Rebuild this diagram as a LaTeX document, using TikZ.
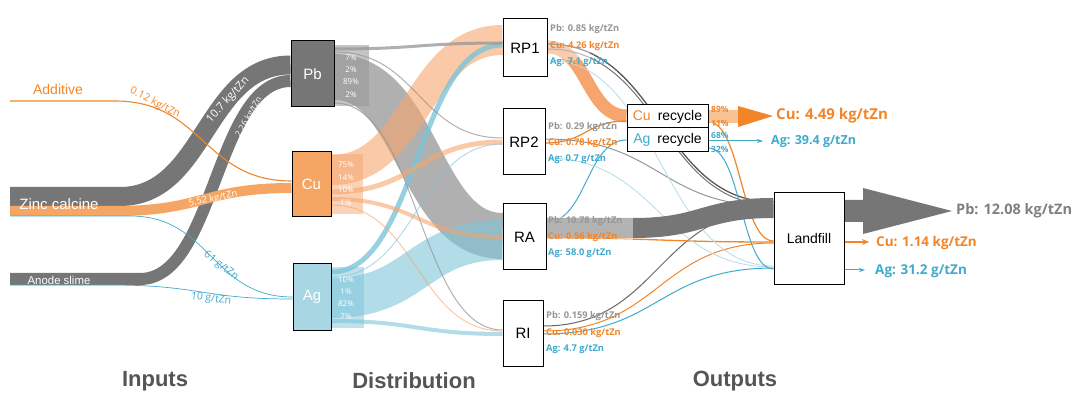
\documentclass[tikz,border=0pt]{standalone}
\usepackage{fontspec}
\setmainfont{Liberation Sans}
\newfontfamily\lblfont{Open Sans}
\usetikzlibrary{arrows.meta,calc}
\newcommand\fsz[1]{\fontsize{#1}{#1}\selectfont}
\definecolor{pb_dark}{RGB}{118,118,118}
\definecolor{pb_band}{RGB}{150,150,150}
\definecolor{pb_text}{RGB}{150,150,150}
\definecolor{pb_out}{RGB}{128,128,128}
\definecolor{cu_text}{RGB}{242,133,40}
\definecolor{cu_box}{RGB}{245,166,100}
\definecolor{cu_band}{RGB}{246,165,110}
\definecolor{ag_text}{RGB}{64,170,205}
\definecolor{ag_box}{RGB}{168,214,226}
\definecolor{ag_band}{RGB}{125,196,216}
\definecolor{head_gray}{RGB}{85,85,85}
\pgfdeclarelayer{bg}
\pgfsetlayers{bg,main}

\begin{document}
\begin{tikzpicture}[x=1pt,y=-1pt]
    \tikzstyle{box}=[draw=black, line width=1pt, fill=white, inner sep=0pt, font=\fsz{15}]
    \tikzstyle{flow}=[to path={let \p1=(\tikztostart), \p2=(\tikztotarget), \n1={(\x2-\x1)/2} in .. controls +(\n1,0) and +(-\n1,0) .. (\tikztotarget)}]
    \tikzstyle{pbflow}=[flow, draw=pb_band, draw opacity=.75]
    \tikzstyle{cuflow}=[flow, draw=cu_band, draw opacity=.6]
    \tikzstyle{agflow}=[flow, draw=ag_band, draw opacity=.6]
    \tikzstyle{val}=[font=\lblfont\bfseries\fsz{9.3}, inner sep=1pt, anchor=west]
    \tikzstyle{pct}=[font=\lblfont\fsz{8}, text=white, inner sep=0pt]
    \tikzstyle{onband}=[font=\lblfont\fsz{11}, text=white, inner sep=0pt]
    \tikzstyle{head}=[font=\bfseries\fsz{22}, text=head_gray]

    \useasboundingbox (0,0) rectangle (1081,395);

    % boxes
    \node[box, fill=pb_dark, text=white, minimum width=43pt, minimum height=66pt] (pb) at (312.5,74) {Pb};
    \node[box, fill=cu_box, text=white, minimum width=39pt, minimum height=65pt] (cu) at (311.5,184.5) {Cu};
    \node[box, fill=ag_box, text=white, minimum width=38pt, minimum height=66pt] (ag) at (312,297) {Ag};
    \node[box, minimum width=44pt, minimum height=58pt] (rp1) at (525,48) {RP1};
    \node[box, minimum width=42pt, minimum height=66pt] (rp2) at (524,142) {RP2};
    \node[box, minimum width=43pt, minimum height=66pt] (ra) at (524.5,237) {RA};
    \node[box, minimum width=40pt, minimum height=66pt] (ri) at (523,333) {RI};
    \node[box, font=\fsz{14}, minimum width=81pt, minimum height=23pt] (curec) at (667.5,116.5) {\textcolor{cu_text}{Cu}\hspace{7pt}recycle};
    \node[box, font=\fsz{14}, minimum width=81pt, minimum height=24pt] (agrec) at (667.5,140) {\textcolor{ag_text}{Ag}\hspace{7pt}recycle};
    \node[box, font=\fsz{14}, minimum width=70pt, minimum height=91pt] (landfill) at (809,238.5) {Landfill};

    % free ends
    \coordinate (zc_pb) at (10,196.5);
    \coordinate (zc_cu) at (10,211);
    \coordinate (zc_ag) at (10,216);
    \coordinate (an_pb) at (10,279);
    \coordinate (an_ag) at (10,285);
    \coordinate (add_cu) at (10,101);
    \coordinate (pb_end) at (952,211);
    \coordinate (cu_end) at (773,116);
    \coordinate (ag_end) at (763,141);
    \coordinate (lf_cu) at (869,242);
    \coordinate (lf_ag) at (865,270);

    \begin{pgfonlayer}{bg}
    % inputs
    \draw[pb_dark, line width=19pt] (zc_pb) -- ++(110,0) to[flow] (pb.west |- 0,65);
    \draw[pb_dark, line width=12pt] (an_pb) -- ++(130,0) to[flow] (pb.west |- 0,81);
    \draw[cu_box, line width=10pt] (zc_cu) -- ++(105,0) to[flow] (cu.west |- 0,188);
    \draw[cu_text, line width=1.1pt] (add_cu) -- ++(105,0) to[flow] (cu.west |- 0,181);
    \draw[ag_text, line width=.7pt] (zc_ag) -- ++(120,0) to[flow] (ag.west |- 0,297);
    \draw[ag_text, line width=.7pt] (an_ag) -- ++(100,0) to[flow] (ag.west |- 0,299);

    % distribution
    \path
     (pb.east |- 0,77)  edge[pbflow, line width=46pt] (ra.west |- 0,236)
     (cu.east |- 0,170) edge[cuflow, line width=30pt] (rp1.west |- 0,40)
     (ag.east |- 0,298) edge[agflow, line width=40pt] (ra.west |- 0,240)
     (ag.east |- 0,272) edge[agflow, draw opacity=.8, line width=5pt] (rp1.west |- 0,45)
     (pb.east |- 0,49)  edge[pbflow, line width=3pt] (rp1.west |- 0,43)
     (pb.east |- 0,52)  edge[pbflow, line width=1pt] (rp2.west |- 0,138)
     (pb.east |- 0,103) edge[pbflow, line width=1pt] (ri.west |- 0,330)
     (cu.east |- 0,192) edge[cuflow, line width=5pt] (rp2.west |- 0,142)
     (cu.east |- 0,199) edge[cuflow, line width=4pt] (ra.west |- 0,237)
     (cu.east |- 0,205) edge[cuflow, line width=1pt] (ri.west |- 0,331)
     (ag.east |- 0,277) edge[agflow, line width=1pt] (rp2.west |- 0,144)
     (ag.east |- 0,321) edge[agflow, line width=4pt] (ri.west |- 0,334);
    \fill[pb_band, opacity=.55] (334,45) rectangle (369,106);
    \fill[cu_band, opacity=.5] (331,154) rectangle (363,214);
    \fill[ag_band, opacity=.5] (331,267) rectangle (364,328);

    % outputs
    \path
     (rp1.east |- 0,47)  edge[flow, draw=cu_band, line width=13pt] (curec.west |- 0,116)
     (rp2.east |- 0,143) edge[flow, draw=cu_text, line width=1.2pt] (curec.west |- 0,121)
     (ra.east |- 0,222)  edge[flow, draw=ag_text, line width=1pt] (agrec.west |- 0,140)
     (rp1.east |- 0,44)  edge[flow, draw=black!65, line width=1.3pt] (landfill.west |- 0,202)
     (rp1.east |- 0,49)  edge[flow, draw=black!55, line width=1pt] (landfill.west |- 0,205)
     (rp2.east |- 0,139) edge[flow, draw=pb_band, line width=1pt] (landfill.west |- 0,206)
     (ri.east |- 0,326)  edge[flow, draw=black!60, line width=1pt] (landfill.west |- 0,210)
     (ra.east |- 0,238)  edge[flow, draw=cu_text, line width=1.3pt] (landfill.west |- 0,242)
     (ri.east |- 0,331)  edge[flow, draw=cu_text, line width=1pt] (landfill.west |- 0,243)
     (curec.east |- 0,122) edge[flow, draw=cu_text, line width=1.2pt] (landfill.west |- 0,241)
     (rp1.east |- 0,60)  edge[flow, draw=ag_text!40, line width=.8pt] (landfill.west |- 0,266)
     (rp2.east |- 0,158) edge[flow, draw=ag_text!40, line width=.8pt] (landfill.west |- 0,267)
     (ri.east |- 0,334)  edge[flow, draw=ag_text, line width=1pt] (landfill.west |- 0,268)
     (agrec.east |- 0,148) edge[flow, draw=ag_text, line width=1pt] (landfill.west |- 0,269);
    \draw[pb_dark, line width=20pt] (ra.east |- 0,228) -- (633,228) to[flow] (landfill.west |- 0,208);
    \fill[white, opacity=.45] (547,217) rectangle (633,240);
    \fill[white, opacity=.45] (548,33) rectangle (590,60);
    \fill[pb_dark] (landfill.east |- 0,200) -- (863,200) -- (863,188) -- (pb_end) -- (863,234) -- (863,222) -- (landfill.east |- 0,222) -- cycle;
    \fill[cu_text!50] (curec.east |- 0,110) rectangle (739,123);
    \fill[cu_text] (738,106) -- (cu_end) -- (738,127) -- cycle;
    \end{pgfonlayer}

    \draw[cu_text, line width=1.5pt, -{Stealth[length=7pt,width=6pt]}] (landfill.east |- 0,242) -- (lf_cu);
    \draw[ag_text, line width=1pt, -{Stealth[length=6pt,width=4pt]}] (landfill.east |- 0,270) -- (lf_ag);
    \draw[ag_text, line width=1pt, -{Stealth[length=6pt,width=4pt]}] (agrec.east |- 0,141) -- (ag_end);

    % input labels
    \node[font=\fsz{14}, text=cu_text] (add) at (58,89) {Additive};
    \node[font=\fsz{15}, text=white] (zc) at (59,204) {Zinc calcine};
    \node[font=\fsz{11.4}, text=white] (an) at (59,280) {Anode slime};
    \node[onband, rotate=48] (zc_pb_v) at (228,100) {10.7 kg/tZn};
    \node[onband, font=\lblfont\fsz{8.5}, rotate=60] (an_pb_v) at (249,117) {2.26 kg/tZn};
    \node[onband, text=cu_text, font=\lblfont\fsz{10.5}, rotate=-27] (add_cu_v) at (155,103) {0.12 kg/tZn};
    \node[onband, font=\lblfont\fsz{9.5}, rotate=12] (zc_cu_v) at (213,199) {5.52 kg/tZn};
    \node[onband, text=ag_text, font=\lblfont\fsz{10.5}, rotate=-38] (zc_ag_v) at (221,266) {61 g/tZn};
    \node[onband, text=ag_text, font=\lblfont\fsz{10.5}, rotate=-7] (an_ag_v) at (211,299) {10 g/tZn};

    % split shares
    \foreach \p/\y in {7\%/58, 2\%/70, 89\%/82, 2\%/95} \node[pct] (pb_p\y) at (351,\y) {\p};
    \foreach \p/\y in {75\%/165, 14\%/178, 10\%/190, 1\%/203} \node[pct] (cu_p\y) at (346,\y) {\p};
    \foreach \p/\y in {10\%/280, 1\%/292, 82\%/304, 7\%/317} \node[pct] (ag_p\y) at (346,\y) {\p};

    % process outputs
    \node[val, text=pb_text] (rp1_pb) at (549,29) {Pb: 0.85 kg/tZn};
    \node[val, text=cu_text] (rp1_cu) at (549,46) {Cu: 4.26 kg/tZn};
    \node[val, text=ag_text] (rp1_ag) at (549,62) {Ag: 7.1 g/tZn};
    \node[val, text=pb_text] (rp2_pb) at (547,127) {Pb: 0.29 kg/tZn};
    \node[val, text=cu_text] (rp2_cu) at (547,143) {Cu: 0.78 kg/tZn};
    \node[val, text=ag_text] (rp2_ag) at (547,159) {Ag: 0.7 g/tZn};
    \node[val, text=pb_text] (ra_pb) at (547,221) {Pb: 10.78 kg/tZn};
    \node[val, text=cu_text] (ra_cu) at (547,237) {Cu: 0.56 kg/tZn};
    \node[val, text=ag_text] (ra_ag) at (547,253) {Ag: 58.0 g/tZn};
    \node[val, text=pb_text] (ri_pb) at (545,316) {Pb: 0.159 kg/tZn};
    \node[val, text=cu_text] (ri_cu) at (545,333) {Cu: 0.030 kg/tZn};
    \node[val, text=ag_text] (ri_ag) at (545,349) {Ag: 4.7 g/tZn};

    % recycle shares
    \node[val, font=\lblfont\bfseries\fsz{8.5}, text=cu_text] (cu_p89) at (710,109) {89\%};
    \node[val, font=\lblfont\bfseries\fsz{8.5}, text=cu_text] (cu_p11) at (710,123) {11\%};
    \node[val, font=\lblfont\bfseries\fsz{8.5}, text=ag_text] (ag_p68) at (710,135) {68\%};
    \node[val, font=\lblfont\bfseries\fsz{8.5}, text=ag_text] (ag_p32) at (710,149) {32\%};

    % final outputs
    \node[val, font=\lblfont\bfseries\fsz{15}, text=cu_text] (cu_res) at (775,116) {Cu: 4.49 kg/tZn};
    \node[val, font=\lblfont\bfseries\fsz{12.5}, text=ag_text] (ag_res) at (770,141) {Ag: 39.4 g/tZn};
    \node[val, font=\lblfont\bfseries\fsz{14.5}, text=pb_out] (pb_lf) at (955,211) {Pb: 12.08 kg/tZn};
    \node[val, font=\lblfont\bfseries\fsz{13.5}, text=cu_text] (cu_lf) at (875,243) {Cu: 1.14 kg/tZn};
    \node[val, font=\lblfont\bfseries\fsz{13.5}, text=ag_text] (ag_lf) at (874,271) {Ag: 31.2 g/tZn};

    % columns
    \node[head] (inputs) at (155,381) {Inputs};
    \node[head] (distr) at (414,381) {Distribution};
    \node[head] (outputs) at (735,381) {Outputs};
\end{tikzpicture}
\end{document}
